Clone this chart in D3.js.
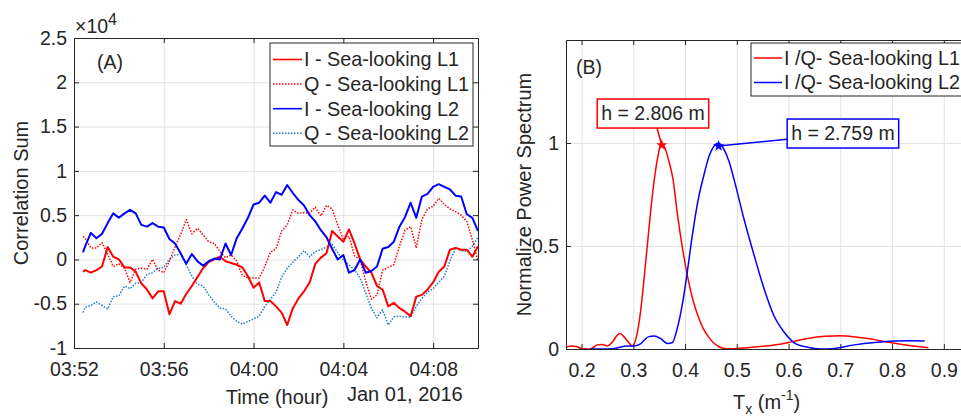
<!DOCTYPE html>
<meta charset="utf-8">
<style>
    body { margin: 0; background: #fff; }
    svg { font-family: "Liberation Sans", Arial, sans-serif; }
    text { fill: #262626; }
    .grid line { stroke: #e2e2e2; stroke-width: 1; }
    .grid .domain { display: none; }
    .axis path, .axis line { stroke: #262626; stroke-width: 1; }
    .axis text { font-size: 19.5px; fill: #262626; }
    .lbl { font-size: 20px; }
    .legend rect, .note rect { fill: #fff; }
</style>
<svg width="961" height="417"></svg>
<script src="https://d3js.org/d3.v7.min.js"></script>
<script>

    // ---- panel A : correlation sums (x 1e4) ----
    var times = [
        "03:52:24","03:52:30","03:52:45",
        "03:53:00","03:53:15","03:53:30","03:53:45",
        "03:54:00","03:54:15","03:54:30","03:54:45",
        "03:55:00","03:55:15","03:55:30","03:55:45",
        "03:56:00","03:56:15","03:56:30","03:56:45",
        "03:57:00","03:57:15","03:57:30","03:57:45",
        "03:58:00","03:58:15","03:58:30","03:58:45",
        "03:59:00","03:59:15","03:59:30","03:59:45",
        "04:00:00","04:00:15","04:00:30","04:00:45",
        "04:01:00","04:01:15","04:01:30","04:01:45",
        "04:02:00","04:02:15","04:02:30","04:02:45",
        "04:03:00","04:03:15","04:03:30","04:03:45",
        "04:04:00","04:04:15","04:04:30","04:04:45",
        "04:05:00","04:05:15","04:05:30","04:05:45",
        "04:06:00","04:06:15","04:06:30","04:06:45",
        "04:07:00","04:07:15","04:07:30","04:07:45",
        "04:08:00","04:08:15","04:08:30","04:08:45",
        "04:09:00","04:09:15","04:09:30","04:09:45",
        "04:10:00"];

    var iL1 = [-0.14,-0.12,-0.15,-0.12,-0.08,0.14,0.03,0.0,-0.09,-0.09,-0.14,-0.27,-0.34,-0.44,-0.36,-0.36,-0.62,
        -0.47,-0.50,-0.39,-0.30,-0.20,-0.10,-0.03,0.0,0.03,-0.02,-0.04,-0.06,-0.09,-0.19,-0.32,-0.26,-0.47,-0.47,
        -0.53,-0.60,-0.74,-0.55,-0.44,-0.36,-0.26,-0.05,0.02,0.07,0.32,0.26,0.20,0.34,0.18,0.0,-0.08,-0.15,
        -0.30,-0.34,-0.53,-0.49,-0.55,-0.59,-0.64,-0.42,-0.40,-0.34,-0.26,-0.14,-0.08,0.11,0.13,0.11,0.11,0.03,0.15];

    var qL1 = [0.26,0.24,0.13,0.13,0.19,0.06,-0.08,-0.05,-0.10,-0.26,-0.11,-0.10,-0.11,0.0,-0.12,-0.15,-0.02,
        0.14,0.28,0.45,0.29,0.35,0.28,0.20,0.18,0.09,0.02,0.05,-0.02,-0.18,-0.21,-0.21,-0.21,-0.08,0.08,
        0.12,0.32,0.39,0.56,0.52,0.53,0.52,0.59,0.49,0.61,0.57,0.39,0.23,0.26,0.04,0.0,-0.25,-0.45,
        -0.40,-0.12,-0.09,-0.06,0.15,0.33,0.37,0.13,0.45,0.57,0.60,0.69,0.62,0.57,0.54,0.50,0.43,0.22,-0.02];

    var iL2 = [0.08,0.15,0.30,0.24,0.29,0.41,0.52,0.47,0.52,0.56,0.52,0.39,0.37,0.41,0.37,0.36,0.23,
        0.18,0.07,-0.05,0.06,-0.02,-0.07,-0.02,0.01,0.0,0.18,0.05,0.24,0.35,0.47,0.62,0.64,0.72,0.64,
        0.76,0.73,0.84,0.75,0.67,0.61,0.50,0.43,0.33,0.25,0.12,0.0,0.05,-0.15,-0.12,0.0,-0.15,-0.13,
        -0.08,0.12,0.14,0.20,0.37,0.48,0.64,0.47,0.71,0.74,0.82,0.85,0.82,0.79,0.72,0.71,0.51,0.47,0.32];

    var qL2 = [-0.60,-0.54,-0.52,-0.48,-0.52,-0.56,-0.42,-0.41,-0.30,-0.33,-0.27,-0.26,-0.17,-0.15,-0.10,-0.09,0.0,
        0.05,0.06,-0.06,-0.19,-0.28,-0.30,-0.40,-0.48,-0.55,-0.56,-0.64,-0.70,-0.73,-0.70,-0.67,-0.64,-0.53,-0.45,
        -0.37,-0.20,-0.10,-0.03,0.03,0.10,0.03,0.09,0.11,0.14,0.17,0.08,-0.01,-0.06,-0.12,-0.21,-0.38,-0.55,
        -0.66,-0.57,-0.74,-0.65,-0.64,-0.65,-0.65,-0.53,-0.44,-0.37,-0.33,-0.26,-0.19,-0.02,0.13,0.10,0.09,0.15,0.25];

    var seriesNames = ["I - Sea-looking L1", "Q - Sea-looking L1", "I - Sea-looking L2", "Q - Sea-looking L2"];
    var yTicksA = [-1, -0.5, 0, 0.5, 1, 1.5, 2, 2.5];

    // ---- panel B : normalised spectra ----
    var txL1 = [0.171,0.18,0.19,0.20,0.21,0.22,0.23,0.24,0.25,0.26,0.27,0.275,0.28,0.29,0.298,
        0.307,0.314,0.320,0.327,0.334,0.341,0.348,0.355,0.362,0.369,0.377,0.385,0.395,0.405,0.415,
        0.425,0.435,0.445,0.455,0.465,0.475,0.49,0.52,0.55,0.58,0.61,0.64,0.67,0.70,0.73,0.76,0.79,0.82,0.85,0.87];
    var specL1 = [0.010,0.015,0.012,0.002,0.0,0.003,0.020,0.022,0.015,0.035,0.070,0.075,0.065,0.035,0.016,
        0.07,0.18,0.32,0.50,0.68,0.83,0.94,1.0,0.97,0.91,0.82,0.66,0.49,0.35,0.24,
        0.16,0.10,0.06,0.03,0.012,0.003,0.001,0.006,0.013,0.022,0.037,0.052,0.062,0.064,0.058,0.048,0.034,0.022,0.012,0.006];
    var txL2 = [0.217,0.237,0.263,0.288,0.301,0.314,0.322,0.330,0.340,0.353,0.366,0.375,0.385,0.395,0.403,
        0.414,0.425,0.436,0.447,0.456,0.465,0.475,0.485,0.495,0.514,0.534,0.553,0.572,0.592,0.611,
        0.637,0.663,0.688,0.727,0.766,0.805,0.835,0.863];
    var specL2 = [0.0,0.0,0.003,0.015,0.015,0.025,0.045,0.06,0.063,0.05,0.027,0.03,0.10,0.22,0.35,
        0.55,0.72,0.84,0.94,0.985,1.0,0.97,0.91,0.82,0.63,0.45,0.29,0.16,0.08,0.03,
        0.008,0.0,0.003,0.02,0.032,0.039,0.04,0.039];

    var specNames = ["I /Q- Sea-looking L1", "I /Q- Sea-looking L2"];
    var peakTx = [0.355, 0.465], peakVal = [0.99, 0.985];
    var noteTx = [0.338, 0.705], noteVal = [1.143, 1.046];
    var noteText = ["h = 2.806 m", "h = 2.759 m"];
    var xTicksB = [0.2, 0.3, 0.4, 0.5, 0.6, 0.7, 0.8, 0.9], yTicksB = [0, 0.5, 1];

    var colors = ["#ff0000", "#ff0000", "#0000ff", "#1a7fcc"];
    var dotted = [false, true, false, true];

    var svg = d3.select("svg");
    var parseT = d3.timeParse("%H:%M:%S");

    // grid behind the data
    function gridLines(g, x, y, box, xv, yv) {
        g.append("g").attr("class", "grid")
            .attr("transform", "translate(0," + box.bottom + ")")
            .call(d3.axisBottom(x).tickValues(xv).tickSize(-(box.bottom - box.top)).tickFormat(""));
        g.append("g").attr("class", "grid")
            .attr("transform", "translate(" + box.left + ",0)")
            .call(d3.axisLeft(y).tickValues(yv).tickSize(-(box.right - box.left)).tickFormat(""));
    }

    // box axes, ticks pointing in
    function boxAxes(g, x, y, box, xv, yv, xfmt, yfmt) {
        g.append("g").attr("class", "axis").attr("transform", "translate(0," + box.bottom + ")")
            .call(d3.axisBottom(x).tickValues(xv).tickSizeInner(-5).tickSizeOuter(0).tickPadding(14).tickFormat(xfmt));
        g.append("g").attr("class", "axis").attr("transform", "translate(0," + box.top + ")")
            .call(d3.axisTop(x).tickValues(xv).tickSizeInner(-5).tickSizeOuter(0).tickFormat(""));
        g.append("g").attr("class", "axis").attr("transform", "translate(" + box.left + ",0)")
            .call(d3.axisLeft(y).tickValues(yv).tickSizeInner(-5).tickSizeOuter(0).tickPadding(7).tickFormat(yfmt));
        g.append("g").attr("class", "axis").attr("transform", "translate(" + box.right + ",0)")
            .call(d3.axisRight(y).tickValues(yv).tickSizeInner(-5).tickSizeOuter(0).tickFormat(""));
        g.selectAll(".axis .tick text").attr("fill", "#262626");
    }

    // ================= panel A =================
    var boxA = {left: 74, right: 478, top: 38, bottom: 348};
    var xA = d3.scaleTime().domain([parseT("03:52:00"), parseT("04:10:00")]).range([boxA.left, boxA.right]);
    var yA = d3.scaleLinear().domain([-1, 2.5]).range([boxA.bottom, boxA.top]);
    var xTicksA = xA.ticks(d3.timeMinute.every(4));

    var defs = svg.append("defs");
    defs.append("clipPath").attr("id", "clipA").append("rect")
        .attr("x", boxA.left).attr("y", boxA.top)
        .attr("width", boxA.right - boxA.left).attr("height", boxA.bottom - boxA.top);
    defs.append("clipPath").attr("id", "clipB").append("rect")
        .attr("x", 566).attr("y", 40).attr("width", 400).attr("height", 309);

    var gA = svg.append("g");
    gridLines(gA, xA, yA, boxA, xTicksA, yTicksA);

    var lineA = d3.line()
        .x(function(d, i) { return xA(parseT(times[i])); })
        .y(function(d) { return yA(d); });

    var seriesA = [iL1, qL1, iL2, qL2];
    [3, 1, 0, 2].forEach(function(k) {
        gA.append("path")
            .datum(seriesA[k])
            .attr("clip-path", "url(#clipA)")
            .attr("fill", "none")
            .attr("stroke", colors[k])
            .attr("stroke-width", dotted[k] ? 1.5 : 2)
            .attr("stroke-dasharray", dotted[k] ? "1.5 1.5" : null)
            .attr("stroke-linejoin", "round")
            .attr("d", lineA);
    });

    boxAxes(gA, xA, yA, boxA, xTicksA, yTicksA, d3.timeFormat("%H:%M"), function(d) { return String(d); });

    var ex = gA.append("text").attr("x", 75).attr("y", 33).style("font-size", "19.5px");
    ex.append("tspan").text("\u00d710");
    ex.append("tspan").attr("dy", -8).style("font-size", "16px").text("4");

    gA.append("text").attr("x", 97).attr("y", 69).style("font-size", "19.5px").text("(A)");
    gA.append("text").attr("class", "lbl")
        .attr("transform", "translate(21," + (boxA.top + boxA.bottom) / 2 + ") rotate(-90)")
        .attr("text-anchor", "middle").attr("dy", "0.35em").text("Correlation Sum");
    gA.append("text").attr("class", "lbl").attr("x", 277).attr("y", 404)
        .attr("text-anchor", "middle").text("Time (hour)");
    gA.append("text").attr("class", "lbl").attr("x", 347).attr("y", 401).text("Jan 01, 2016");

    // legend A
    var legA = gA.append("g").attr("class", "legend");
    legA.append("rect").attr("x", 270).attr("y", 43).attr("width", 203).attr("height", 103)
        .attr("stroke", "#262626");
    seriesNames.forEach(function(name, k) {
        var cy = 59.5 + k * 24.6;
        legA.append("line").attr("x1", 273).attr("x2", 302).attr("y1", cy).attr("y2", cy)
            .attr("stroke", colors[k]).attr("stroke-width", dotted[k] ? 1.5 : 1.6)
            .attr("stroke-dasharray", dotted[k] ? "1.5 1.5" : null);
        legA.append("text").attr("x", 304).attr("y", cy).attr("dy", "0.35em")
            .style("font-size", "19.8px").text(name);
    });

    // ================= panel B =================
    var boxB = {left: 566, right: 995.6, top: 40, bottom: 349};
    var xB = d3.scaleLinear().domain([0.17, 1.0]).range([boxB.left, boxB.right]);
    var yB = d3.scaleLinear().domain([0, 1.5]).range([boxB.bottom, boxB.top]);

    var gB = svg.append("g");
    gridLines(gB, xB, yB, boxB, xTicksB, yTicksB);

    var specs = [[txL1, specL1], [txL2, specL2]];
    var specColors = ["#ff0000", "#0000ff"];
    specs.forEach(function(s, k) {
        gB.append("path")
            .datum(d3.zip(s[0], s[1]))
            .attr("clip-path", "url(#clipB)")
            .attr("fill", "none")
            .attr("stroke", specColors[k])
            .attr("stroke-width", 1.5)
            .attr("d", d3.line().curve(d3.curveMonotoneX)
                .x(function(d) { return xB(d[0]); })
                .y(function(d) { return yB(d[1]); }));
    });

    boxAxes(gB, xB, yB, boxB, xTicksB, yTicksB, function(d) { return String(d); }, function(d) { return String(d); });

    gB.append("text").attr("x", 576).attr("y", 74).style("font-size", "19.5px").text("(B)");
    gB.append("text").attr("class", "lbl")
        .attr("transform", "translate(524," + (boxB.top + boxB.bottom) / 2 + ") rotate(-90)")
        .attr("text-anchor", "middle").attr("dy", "0.35em").text("Normalize Power Spectrum");

    var xl = gB.append("text").attr("class", "lbl").attr("x", 733).attr("y", 409);
    xl.append("tspan").text("T");
    xl.append("tspan").attr("dy", 5).style("font-size", "14px").text("x");
    xl.append("tspan").attr("dy", -5).text(" (m");
    xl.append("tspan").attr("dy", -9).style("font-size", "14px").text("-1");
    xl.append("tspan").attr("dy", 9).text(")");

    // peak annotations
    peakTx.forEach(function(px, k) {
        var g = gB.append("g").attr("class", "note");
        var t = g.append("text").attr("x", xB(noteTx[k])).attr("y", yB(noteVal[k]))
            .attr("text-anchor", "middle").attr("dy", "0.35em")
            .style("font-size", "19.5px").text(noteText[k]);
        var bb = t.node().getBBox();
        var bx = {x0: bb.x - 4, x1: bb.x + bb.width + 4, y0: yB(noteVal[k]) - 14.5, y1: yB(noteVal[k]) + 14.5};
        var cx = (bx.x0 + bx.x1) / 2, cy = (bx.y0 + bx.y1) / 2;
        var tx = xB(px), ty = yB(peakVal[k]);
        var dx = tx - cx, dy = ty - cy;
        var s = Math.min(Math.abs((bx.x1 - cx) / (dx || 1e-9)), Math.abs((bx.y1 - cy) / (dy || 1e-9)));
        g.insert("line", "text").attr("x1", cx + dx * s).attr("y1", cy + dy * s).attr("x2", tx).attr("y2", ty)
            .attr("stroke", specColors[k]).attr("stroke-width", 1.5);
        g.insert("rect", "text").attr("x", bx.x0).attr("y", bx.y0)
            .attr("width", bx.x1 - bx.x0).attr("height", bx.y1 - bx.y0)
            .attr("stroke", specColors[k]).attr("stroke-width", 1.5);
        g.append("path").attr("transform", "translate(" + tx + "," + ty + ")")
            .attr("d", d3.symbol(d3.symbolStar, 40)).attr("fill", specColors[k]);
    });

    // legend B
    var legB = gB.append("g").attr("class", "legend");
    legB.append("rect").attr("x", 751).attr("y", 43).attr("width", 260).attr("height", 53)
        .attr("stroke", "#262626");
    specNames.forEach(function(name, k) {
        var cy = 58 + k * 24.5;
        legB.append("line").attr("x1", 754).attr("x2", 782).attr("y1", cy).attr("y2", cy)
            .attr("stroke", specColors[k]).attr("stroke-width", 1.5);
        legB.append("text").attr("x", 784).attr("y", cy).attr("dy", "0.35em")
            .style("font-size", "19.8px").text(name);
    });

</script>
